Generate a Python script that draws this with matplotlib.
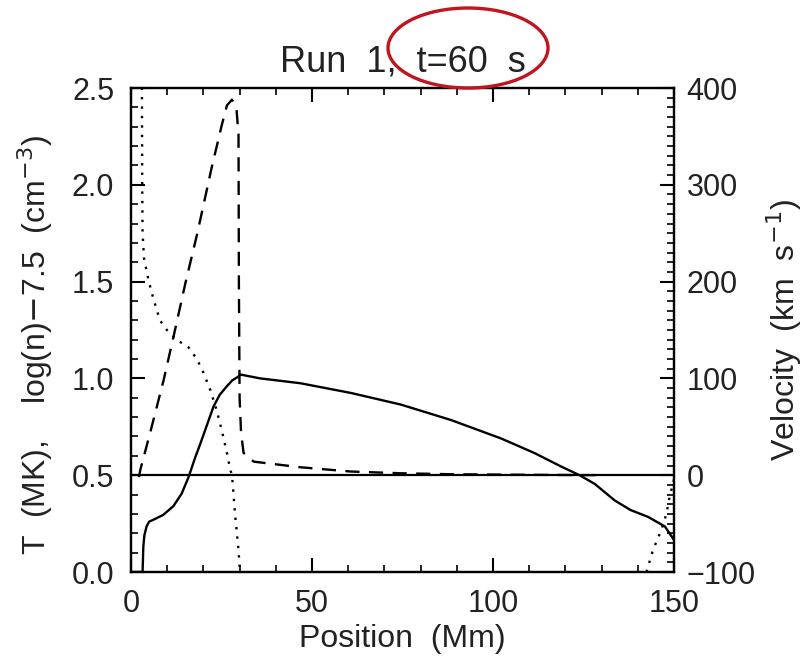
import numpy as np
import matplotlib
matplotlib.use("Agg")
import matplotlib.pyplot as plt
from matplotlib.patches import Ellipse
from matplotlib.ticker import MultipleLocator, FormatStrFormatter

plt.rcParams['font.family'] = ['Liberation Sans', 'DejaVu Sans']

# Solid curve: velocity (km/s), right axis
vel_pos = [0, 3.2, 3.4, 3.7, 4.3, 5.0, 6.2, 8.9, 11.7, 14.0, 15.9, 17.7, 19.1, 22.8,
           24.5, 26.5, 28.0, 29.7, 30.2, 35.7, 46.8, 60.7, 74.5, 88.4, 102.2, 111.4,
           118.8, 123.9, 128.1, 133.6, 138.0, 142.8, 147.5, 150]
vel_val = [-100, -100, -74, -62, -53, -48, -46, -41, -32, -19, -2, 18, 32, 71,
           83, 92, 98, 102, 104, 100, 95, 85, 73, 57, 38, 23,
           9, 0, -9, -26, -36, -43, -53, -67]

# Dashed curve: T (MK), left axis
temp_pos = [2.2, 2.6, 5.3, 9.0, 11.8, 15.0, 18.2, 22.3, 25.1, 26.5, 27.9, 29.1, 29.7,
            29.8, 30.0, 30.4, 31.1, 33.9, 46.8, 60.7, 74.5, 88.4, 110, 131]
temp_val = [0.49, 0.53, 0.72, 0.99, 1.22, 1.49, 1.74, 2.09, 2.31, 2.41, 2.44, 2.40, 2.26,
            1.5, 0.9, 0.72, 0.615, 0.57, 0.541, 0.519, 0.51, 0.505, 0.502, 0.50]

# Dotted curve: log(n) - 7.5, left axis (below 0 outside plotted range)
dens_pos = [3.0, 3.1, 3.2, 3.6, 4.8, 6.2, 8.0, 9.9, 12.6, 15.9, 18.2, 20.0, 21.9,
            23.6, 25.1, 26.5, 27.4, 27.9, 28.8, 29.7, 30.1, 86.0,
            142.4, 144.2, 146.5, 147.9, 148.8, 149.8, 150]
dens_val = [2.6, 2.0, 1.75, 1.62, 1.51, 1.41, 1.30, 1.25, 1.20, 1.16, 1.10, 1.03, 0.94,
            0.84, 0.73, 0.615, 0.53, 0.5, 0.286, 0.114, 0.0, np.nan,
            0.0, 0.114, 0.217, 0.30, 0.39, 0.46, 0.48]

title = "Run  1,  t=60  s"
xlabel = "Position  (Mm)"
ylabel_left = r"T  (MK),    log(n)$-$7.5  (cm$^{-3}$)"
ylabel_right = r"Velocity  (km  s$^{-1}$)"

W, H = 807, 664
fig = plt.figure(figsize=(W / 100, H / 100), dpi=100)
ax = fig.add_axes([131 / W, 1 - 572 / H, (674 - 131) / W, (572 - 88) / H])
ax2 = ax.twinx()

fs = 22
tc = '#222222'

ax.plot(temp_pos, temp_val, color='black', lw=1.7, linestyle=(0, (6, 4)))
ax.plot(dens_pos, dens_val, color='black', lw=1.7, linestyle=(0, (1, 3)))
ax2.plot(vel_pos, vel_val, color='black', lw=1.7)
ax2.axhline(0, color='black', lw=1.6)

ax.set_xlim(0, 150)
ax.set_ylim(0, 2.5)
ax2.set_ylim(-100, 400)

ax.xaxis.set_major_locator(MultipleLocator(50))
ax.xaxis.set_minor_locator(MultipleLocator(10))
ax.yaxis.set_major_locator(MultipleLocator(0.5))
ax.yaxis.set_minor_locator(MultipleLocator(0.1))
ax.yaxis.set_major_formatter(FormatStrFormatter('%.1f'))
ax2.yaxis.set_major_locator(MultipleLocator(100))
ax2.yaxis.set_minor_locator(MultipleLocator(10))

ax.tick_params(axis='x', which='both', direction='in', top=True, bottom=True,
               labelsize=fs, labelcolor=tc, pad=12)
ax.tick_params(axis='y', which='both', direction='in', left=True, right=False,
               labelsize=fs, labelcolor=tc, pad=12)
ax2.tick_params(axis='y', which='both', direction='in', right=True, left=False,
                labelsize=fs, labelcolor=tc, pad=9)
for a in (ax, ax2):
    a.tick_params(which='major', length=10, width=1.5)
    a.tick_params(which='minor', length=5, width=1.2)
for s in ax.spines.values():
    s.set_linewidth(1.6)
for s in ax2.spines.values():
    s.set_linewidth(1.6)

ax.set_xlabel(xlabel, fontsize=fs + 1, color=tc, labelpad=4)
ax.set_ylabel(ylabel_left, fontsize=fs + 1, color=tc, labelpad=8)
ax.yaxis.set_label_coords(-0.14, 0.47)
ax2.set_ylabel(ylabel_right, fontsize=fs + 1, color=tc, labelpad=6)
ax.set_title(title, fontsize=fs + 4, color=tc, pad=12)

ell = Ellipse((468 / W, 1 - 48 / H), 160 / W, 80 / H, transform=fig.transFigure,
              fill=False, edgecolor='#c0141e', lw=2.4)
fig.patches.append(ell)

fig.savefig("out.png", dpi=100)
